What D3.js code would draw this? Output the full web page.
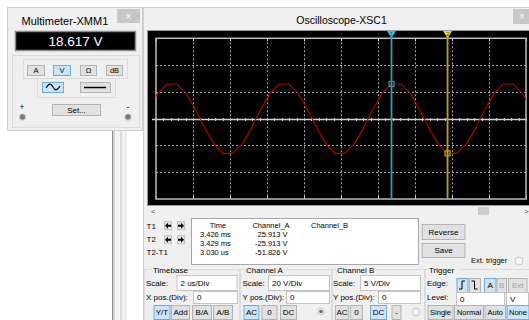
<!DOCTYPE html>
<html><head><meta charset="utf-8">
<script src="https://cdn.jsdelivr.net/npm/d3@7"></script>
<style>html,body{margin:0;padding:0;background:#fff;overflow:hidden}svg{display:block}</style>
</head><body>
<script>
// ---------- data ----------
const timeTicks = [0, 2, 4, 6, 8, 10, 12, 14, 16, 18, 20];          // µs (2 us/Div)
const voltTicks = [-60, -40, -20, 0, 20, 40, 60];                    // V (20 V/Div)
const sampleTimes = [-0.40, 0.11, 0.61, 1.12, 1.62, 2.13, 2.63, 3.14, 3.64, 4.15, 4.65, 5.16,
  5.66, 6.17, 6.67, 7.18, 7.68, 8.19, 8.69, 9.20, 9.70, 10.21, 10.71, 11.22, 11.72, 12.23,
  12.73, 13.24, 13.74, 14.25, 14.75, 15.26, 15.76, 16.27, 16.77, 17.28, 17.78, 18.29, 18.79,
  19.30, 19.80, 20.31];
const channelA = [6.9, 19.0, 25.9, 25.9, 19.0, 6.9, -6.9, -19.0, -25.9, -25.9, -19.0, -6.9,
  6.9, 19.0, 25.9, 25.9, 19.0, 6.9, -6.9, -19.0, -25.9, -25.9, -19.0, -6.9,
  6.9, 19.0, 25.9, 25.9, 19.0, 6.9, -6.9, -19.0, -25.9, -25.9, -19.0, -6.9,
  6.9, 19.0, 25.9, 25.9, 19.0, 6.9];
const cursorNames = ["1", "2"];
const cursorTimes = [12.73, 15.76];
const cursorValues = [25.913, -25.913];
const rowLabels = ["T1", "T2", "T2-T1"];
const readTime = ["3.426 ms", "3.429 ms", "3.030 us"];
const readChA = ["25.913 V", "-25.913 V", "-51.826 V"];
const meterReading = "18.617 V";

// ---------- helpers ----------
const W = 529, H = 320;
const FONT = "'Liberation Sans', Arial, sans-serif";
const FS = 8;
const svg = d3.select("body").append("svg").attr("width", W).attr("height", H)
  .style("font-family", FONT);

function rect(x, y, w, h, fill, stroke, sw) {
  return svg.append("rect").attr("x", x).attr("y", y).attr("width", w).attr("height", h)
    .attr("fill", fill || "none").attr("stroke", stroke || "none").attr("stroke-width", sw || 1);
}
function line(x1, y1, x2, y2, stroke, sw, dash) {
  const l = svg.append("line").attr("x1", x1).attr("y1", y1).attr("x2", x2).attr("y2", y2)
    .attr("stroke", stroke).attr("stroke-width", sw || 1);
  if (dash) l.attr("stroke-dasharray", dash);
  return l;
}
function txt(x, y, s, size, opts) {
  opts = opts || {};
  return svg.append("text").attr("x", x).attr("y", y).text(s)
    .attr("font-size", size).attr("fill", opts.fill || "#000")
    .attr("text-anchor", opts.anchor || "start")
    .attr("font-weight", opts.weight || "normal");
}
function button(x, y, w, h, label, opts) {
  opts = opts || {};
  const active = opts.active, disabled = opts.disabled;
  rect(x + 0.5, y + 0.5, w, h, active ? "#cce4f7" : "#e1e1e1", active ? "#6fa9dc" : "#b4b4b4");
  if (label !== null && label !== undefined)
    txt(x + w / 2 + 0.5, y + h / 2 + (opts.size || FS) * 0.38, label, opts.size || FS,
      { anchor: "middle", fill: disabled ? "#a0a0a0" : "#000" });
}
function input(x, y, w, h, label, size) {
  rect(x + 0.5, y + 0.5, w, h, "#fff", "#c3c3c3");
  txt(x + 4, y + h / 2 + 3, label, size || FS);
}
function groupBox(x, y, w, h) {
  rect(x + 0.5, y + 0.5, w, h, "none", "#dcdcdc");
}
function arrow(cx, cy, dir) {
  const d = dir < 0
    ? `M${cx - 3},${cy} L${cx},${cy - 3} L${cx},${cy - 1} L${cx + 3},${cy - 1} L${cx + 3},${cy + 1} L${cx},${cy + 1} L${cx},${cy + 3} Z`
    : `M${cx + 3},${cy} L${cx},${cy - 3} L${cx},${cy - 1} L${cx - 3},${cy - 1} L${cx - 3},${cy + 1} L${cx},${cy + 1} L${cx},${cy + 3} Z`;
  svg.append("path").attr("d", d).attr("fill", "#000");
}

// ---------- background pieces ----------
rect(0, 0, W, H, "#ffffff");
rect(112, 131, 14, 189, "#f3f3f3");
line(112.5, 131, 112.5, 320, "#8a8a8a");
line(114, 131, 114, 320, "#b5b5b5");
line(121, 131, 121, 320, "#c4c4c4");
line(126, 131, 126, 320, "#dddddd");

// ---------- multimeter ----------
rect(7.5, 7.5, 135, 123, "#f0f0f0", "#cfcfcf");
txt(21.5, 25, "Multimeter-XMM1", 11);
rect(117, 9, 23, 14, "#c7c7c7");
txt(128.5, 19.5, "\u00d7", 10, { anchor: "middle", fill: "#fff" });
rect(15.5, 31.5, 120, 19, "#000", "#8d8d8d", 1.5);
txt(75.5, 46, meterReading, 13.5, { anchor: "middle", fill: "#fff" });
groupBox(12, 55, 127, 72);
groupBox(23, 59, 104, 19);
button(27, 65, 17, 10, "A", { size: 7.5 });
button(53, 65, 17, 10, "V", { size: 7.5, active: true });
button(80, 65, 16, 10, "\u03a9", { size: 7.5 });
button(106, 65, 16, 10, "dB", { size: 7.5 });
groupBox(37, 78, 78, 19);
button(42, 82, 21, 10, null, { active: true });
svg.append("path").attr("d", "M46,88 C49,83 51,83 53,87 C55,91 57,91 60,86")
  .attr("fill", "none").attr("stroke", "#000").attr("stroke-width", 1.1);
button(80, 82, 30, 10, null);
line(84, 87.5, 106, 87.5, "#000", 1.5);
txt(19.5, 110, "+", 8.5);
txt(126.5, 110, "-", 8.5);
svg.append("circle").attr("cx", 22.5).attr("cy", 117).attr("r", 3.2).attr("fill", "#7a7a7a").attr("stroke", "#d0d0d0");
svg.append("circle").attr("cx", 128).attr("cy", 117).attr("r", 3.2).attr("fill", "#7a7a7a").attr("stroke", "#d0d0d0");
button(52, 104, 48, 11, "Set...", { size: 8 });

// ---------- oscilloscope window ----------
rect(143.5, 7.5, 390, 320, "#f0f0f0", "#cfcfcf");
txt(341.5, 24, "Oscilloscope-XSC1", 10.5, { anchor: "middle" });
rect(513, 9, 18, 15, "#c7c7c7");
txt(522, 19.5, "\u00d7", 10, { anchor: "middle", fill: "#fff" });

// screen
rect(147.5, 30.5, 390, 175, "#000", "#9a9a9a");
const x = d3.scaleLinear().domain([0, 20]).range([156, 526]);
const y = d3.scaleLinear().domain([-60, 60]).range([199, 38.3]);

const grid = svg.append("g");
timeTicks.slice(1, -1).forEach(t => {
  grid.append("line").attr("x1", Math.round(x(t)) + 0.5).attr("x2", Math.round(x(t)) + 0.5)
    .attr("y1", y(60)).attr("y2", y(-60)).attr("stroke", "#a9a9a9").attr("stroke-dasharray", "2,2");
});
voltTicks.slice(1, -1).filter(v => v !== 0).forEach(v => {
  grid.append("line").attr("x1", x(0)).attr("x2", x(20))
    .attr("y1", Math.round(y(v)) + 0.5).attr("y2", Math.round(y(v)) + 0.5)
    .attr("stroke", "#a9a9a9").attr("stroke-dasharray", "2,2");
});
grid.append("line").attr("x1", x(0) - 4).attr("x2", x(20)).attr("y1", Math.round(y(0)) + 0.5)
  .attr("y2", Math.round(y(0)) + 0.5).attr("stroke", "#d2d2d2").attr("stroke-width", 1.3);
d3.range(0, 20.01, 0.4).forEach(t => {
  grid.append("line").attr("x1", Math.round(x(t)) + 0.5).attr("x2", Math.round(x(t)) + 0.5)
    .attr("y1", Math.round(y(0)) - 1).attr("y2", Math.round(y(0)) + 2).attr("stroke", "#c8c8c8");
});
timeTicks.forEach(t => {
  grid.append("line").attr("x1", Math.round(x(t)) + 0.5).attr("x2", Math.round(x(t)) + 0.5)
    .attr("y1", y(-60) - 3).attr("y2", y(-60)).attr("stroke", "#d0d0d0");
  grid.append("line").attr("x1", Math.round(x(t)) + 0.5).attr("x2", Math.round(x(t)) + 0.5)
    .attr("y1", y(60)).attr("y2", y(60) + 3).attr("stroke", "#d0d0d0");
});
grid.append("rect").attr("x", x(0)).attr("y", y(60)).attr("width", x(20) - x(0))
  .attr("height", y(-60) - y(60)).attr("fill", "none").attr("stroke", "#bdbdbd").attr("stroke-width", 1.5);

// trace
svg.append("clipPath").attr("id", "clipScreen").append("rect")
  .attr("x", x(0)).attr("y", y(60)).attr("width", x(20) - x(0)).attr("height", y(-60) - y(60));
const pts = sampleTimes.map((t, i) => [t, channelA[i]]);
svg.append("path").datum(pts).attr("clip-path", "url(#clipScreen)")
  .attr("d", d3.line().x(d => x(d[0])).y(d => y(d[1])))
  .attr("fill", "none").attr("stroke", "#b40000").attr("stroke-width", 1.1);

// cursors
const curCol = ["#2a9fae", "#b5a800"];
const curHead = ["#22c8e6", "#e8e000"];
cursorTimes.forEach((t, i) => {
  const cx = x(t);
  svg.append("line").attr("x1", cx).attr("x2", cx).attr("y1", 33).attr("y2", y(-60))
    .attr("stroke", curCol[i]).attr("stroke-width", 1.8);
  svg.append("path").attr("d", `M${cx - 4.5},31 L${cx + 4.5},31 L${cx},38 Z`).attr("fill", curHead[i]);
  txt(cx, 35.5, cursorNames[i], 5, { anchor: "middle", fill: "#205060" });
  svg.append("rect").attr("x", cx - 2.5).attr("y", y(cursorValues[i]) - 2.5).attr("width", 5).attr("height", 5)
    .attr("fill", "none").attr("stroke", curCol[i]).attr("stroke-width", 1.2);
});

// scrollbar
txt(151, 214, "<", 8, { fill: "#505050" });
rect(478, 207, 11, 8, "#cdcdcd");
txt(524, 214, ">", 8, { fill: "#505050" });

// cursor readout
rowLabels.forEach((r, i) => txt(146.5, [228.5, 241.5, 254.5][i], r, FS));
[225.7, 239.7].forEach(cy => {
  rect(164.5, cy - 4, 7, 8, "#e4e4e4", "#c0c0c0");
  rect(177.5, cy - 4, 7, 8, "#e4e4e4", "#c0c0c0");
  arrow(168, cy, -1);
  arrow(181, cy, 1);
});
rect(191.5, 218.5, 227, 46, "#fff", "#a8a8a8");
txt(218, 227.5, "Time", 7.5, { anchor: "middle" });
txt(271, 227.5, "Channel_A", 7.5, { anchor: "middle" });
txt(311, 227.5, "Channel_B", 7.5);
readTime.forEach((s, i) => txt(200, 236.5 + i * 9, s, 7.5));
readChA.forEach((s, i) => txt(i === 0 ? 257.5 : 255, 236.5 + i * 9, s, 7.5));

button(421.5, 224, 43, 15, "Reverse");
button(421.5, 243, 43, 14, "Save");
txt(471, 263, "Ext. trigger", 7.5);
svg.append("circle").attr("cx", 519).attr("cy", 261).attr("r", 4).attr("fill", "#f5f5f5").attr("stroke", "#c8c8c8");

// bottom control groups
groupBox(144, 269, 95, 52);
groupBox(240, 269, 91, 52);
groupBox(332, 269, 92, 52);
groupBox(425, 269, 106, 52);
[[153, "Timebase"], [246, "Channel A"], [337, "Channel B"], [429, "Trigger"]].forEach(d => {
  rect(d[0] - 1, 266, d[1].length * 4.2 + 2, 6, "#f0f0f0");
  txt(d[0], 272.5, d[1], FS);
});
// Timebase
txt(146, 286, "Scale:", FS);
input(176.5, 275, 60, 15, "2 us/Div");
txt(146, 300, "X pos.(Div):", FS);
input(193, 291, 44, 12, "0");
button(153.5, 305, 16, 14, "Y/T", { active: true });
button(171, 305, 18, 14, "Add");
button(192, 305, 19, 14, "B/A");
button(213, 305, 19, 14, "A/B");
// Channel A
txt(242.5, 286, "Scale:", FS);
input(268, 275, 61, 15, "20  V/Div");
txt(242.5, 300, "Y pos.(Div):", FS);
input(286, 291, 43, 12, "0");
button(243.5, 305, 15, 14, "AC", { active: true });
button(261.5, 305, 15, 14, "0");
button(280, 305, 16, 14, "DC");
svg.append("circle").attr("cx", 321).attr("cy", 311.5).attr("r", 3.5).attr("fill", "#e8e8e8").attr("stroke", "#d0d0d0");
svg.append("circle").attr("cx", 321).attr("cy", 311.5).attr("r", 1.8).attr("fill", "#6a6a6a");
// Channel B
txt(333, 286, "Scale:", FS);
input(360, 275, 60, 15, "5  V/Div");
txt(333, 300, "Y pos.(Div):", FS);
input(378, 291, 42, 12, "0");
button(335, 305, 13, 14, "AC");
button(350, 305, 12, 14, "0");
button(370, 305, 16, 14, "DC", { active: true });
button(391.5, 305, 9, 14, "-");
svg.append("circle").attr("cx", 416).attr("cy", 312).attr("r", 3.8).attr("fill", "#f5f5f5").attr("stroke", "#c8c8c8");
// Trigger
txt(427, 286, "Edge:", FS);
button(456.5, 278, 11, 14, null, { active: true });
svg.append("path").attr("d", "M459,289 L462,289 L462,281 L465,281").attr("fill", "none").attr("stroke", "#000").attr("stroke-width", 1);
button(469, 278, 11, 14, null);
svg.append("path").attr("d", "M471.5,281 L474.5,281 L474.5,289 L477.5,289").attr("fill", "none").attr("stroke", "#000").attr("stroke-width", 1);
button(484, 278, 11.5, 14, "A", { active: true });
button(496.5, 278, 9.5, 14, "B", { disabled: true });
button(508, 278, 18.5, 14, "Ext", { disabled: true });
txt(427, 300, "Level:", FS);
input(456, 292, 48, 13, "0");
input(506, 292, 22, 13, "V");
button(427.5, 305, 25, 14, "Single", { size: 7.5 });
button(454, 305, 29, 14, "Normal", { size: 7.5 });
button(484.5, 305, 20.5, 14, "Auto", { size: 7.5 });
button(506.5, 305, 22, 14, "None", { size: 7.5, active: true });
</script>
</body></html>
